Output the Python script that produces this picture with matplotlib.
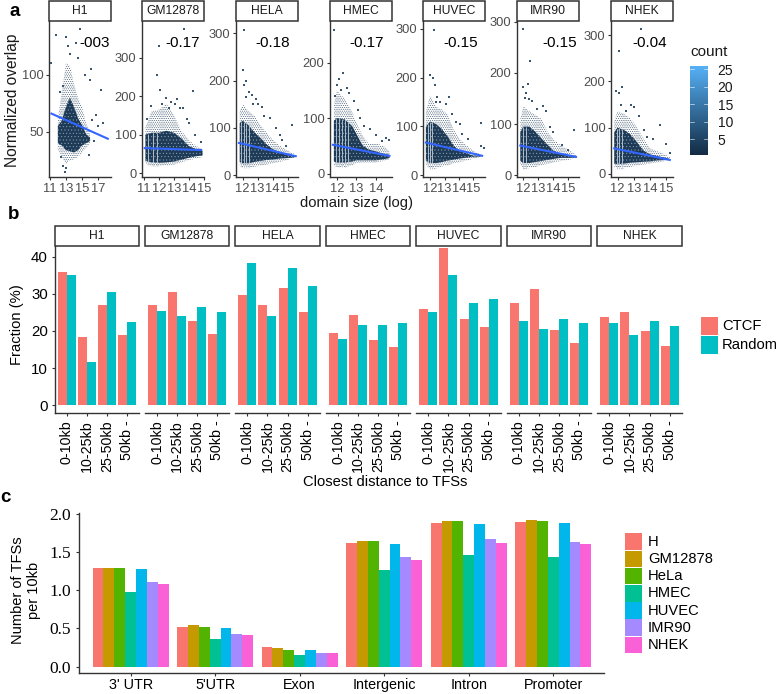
import matplotlib
matplotlib.use("Agg")
import matplotlib.pyplot as plt
from matplotlib.colors import LinearSegmentedColormap
from matplotlib.patches import Rectangle
import numpy as np

plt.rcParams['font.family'] = ['Liberation Sans', 'DejaVu Sans']
plt.rcParams['hatch.linewidth'] = 0.35
W, H = 778, 694

CELLS = ["H1", "GM12878", "HELA", "HMEC", "HUVEC", "IMR90", "NHEK"]
CORR = ["-003", "-0.17", "-0.18", "-0.17", "-0.15", "-0.15", "-0.04"]

# panel a: hand-read outlines of the point cloud
H1_X = [12, 12.5, 13, 13.5, 14, 14.5, 15, 15.5, 16]
H1_OUT = ([35, 28, 22, 25, 26, 28, 32, 36, 40], [62, 85, 110, 108, 92, 80, 72, 58, 50])
H1_CORE = ([40, 38, 34, 33, 32, 34, 38, 40, 42], [55, 60, 72, 80, 72, 62, 56, 48, 45])
H1_PTS = ([11.2, 11.8, 13, 13.3, 14.2, 14.8, 16.1, 16, 17.4, 17.6, 16.7, 17, 16.3, 12.3, 12.6, 15.4, 14.5, 13.5, 12.6, 13, 12.9, 12.4, 15.9, 16.5],
          [110, 135, 133, 125, 128, 140, 105, 95, 87, 58, 65, 55, 60, 85, 90, 100, 115, 118, 20, 18, 15, 28, 30, 42])
GM_X = [11.1, 11.5, 12, 12.5, 13, 13.5, 14, 14.5, 14.9]
GM_OUT = ([25, 18, 18, 20, 22, 28, 34, 38, 42], [120, 160, 165, 180, 150, 110, 85, 70, 62])
GM_CORE = ([32, 28, 27, 28, 30, 35, 40, 44, 46], [100, 105, 105, 110, 105, 90, 70, 62, 58])
GM_PTS = ([13.7, 12, 11.85, 12.1, 14.3, 13.1, 13.4, 12.8, 13.2, 13.6, 11.5, 12.5, 12.2, 12.7, 14, 14.4, 13.9, 14.8, 11.2],
          [375, 330, 255, 215, 212, 180, 170, 185, 192, 170, 175, 195, 180, 170, 130, 100, 140, 80, 140])
HE_X = [11.8, 12, 12.4, 12.8, 13.2, 13.6, 14, 14.5, 15, 15.5]
HE_OUT = ([20, 15, 15, 18, 20, 22, 25, 28, 32, 38], [135, 150, 135, 125, 105, 90, 75, 62, 52, 44])
HE_CORE = ([28, 25, 25, 28, 30, 32, 33, 35, 36, 38], [110, 115, 105, 90, 78, 65, 55, 48, 42, 40])
HE_PTS = ([12.1, 12, 12.2, 12.1, 12.6, 12.9, 13, 13.3, 13.8, 14.2, 15.3, 14.6, 14.9, 12.4, 12.7, 12.2, 13.4, 14.5],
          [308, 222, 200, 190, 170, 160, 150, 145, 120, 100, 105, 75, 62, 175, 150, 165, 125, 85])
HM_X = [11.85, 12, 12.4, 12.8, 13, 13.3, 13.6, 14, 14.4, 14.7]
HM_OUT = ([15, 12, 12, 15, 19, 20, 20, 20, 23, 26], [125, 150, 135, 110, 92, 70, 55, 55, 50, 40])
HM_CORE = ([22, 20, 20, 22, 24, 24, 24, 24, 26, 28], [95, 100, 98, 85, 72, 52, 44, 40, 36, 34])
HM_PTS = ([11.85, 12.3, 12.1, 12.5, 12.6, 12, 12.9, 13.1, 13.4, 13.7, 14, 14.5, 14.7, 14.3, 13.2, 12.2, 11.9],
          [258, 182, 170, 155, 145, 160, 130, 115, 85, 80, 70, 65, 60, 58, 100, 150, 140])
HU_X = [11.7, 12, 12.4, 12.8, 13.2, 13.6, 14, 14.5, 15, 15.5]
HU_OUT = ([22, 12, 14, 18, 20, 24, 27, 30, 34, 38], [130, 165, 140, 135, 125, 95, 75, 62, 50, 42])
HU_CORE = ([30, 25, 25, 27, 30, 32, 34, 36, 38, 38], [100, 110, 105, 95, 80, 62, 50, 45, 40, 40])
HU_PTS = ([12.25, 12, 12.2, 12.3, 12.5, 12.7, 13.3, 13.1, 13.5, 14.1, 15.5, 15.5, 15.7, 14.6, 14.2, 12.4, 13.8],
          [298, 205, 200, 185, 160, 150, 160, 145, 125, 105, 107, 60, 55, 75, 85, 150, 110])
IM_X = [11.8, 12, 12.4, 12.8, 13.2, 13.6, 14, 14.5, 15, 15.5]
IM_OUT = ([22, 12, 14, 16, 20, 22, 25, 28, 30, 34], [110, 135, 125, 118, 110, 85, 70, 58, 50, 40])
IM_CORE = ([28, 24, 24, 26, 28, 30, 32, 34, 34, 35], [85, 95, 95, 85, 72, 60, 48, 42, 38, 36])
IM_PTS = ([12, 12.45, 12.3, 12, 12.1, 12.4, 12.9, 13.3, 13.5, 15.4, 14.6, 15, 14, 13.8, 12.6, 12.2],
          [285, 222, 178, 172, 150, 148, 130, 135, 125, 88, 60, 50, 85, 95, 145, 160])
NH_X = [11.8, 12, 12.4, 12.8, 13.2, 13.6, 14, 14.5, 15, 15.2]
NH_OUT = ([15, 10, 12, 15, 18, 20, 22, 25, 28, 30], [115, 135, 130, 120, 100, 75, 55, 48, 40, 36])
NH_CORE = ([22, 20, 22, 24, 25, 26, 27, 29, 30, 30], [90, 100, 95, 85, 68, 50, 42, 38, 34, 32])
NH_PTS = ([13.46, 12.1, 11.9, 12.1, 12.3, 12.2, 12.8, 13, 13.3, 14.6, 15, 14.2, 13.8, 15.2, 12.5, 13.6],
          [313, 265, 180, 175, 188, 150, 150, 145, 125, 105, 65, 75, 80, 45, 135, 95])

CLOUD_X = [H1_X, GM_X, HE_X, HM_X, HU_X, IM_X, NH_X]
CLOUD_OUT = [H1_OUT, GM_OUT, HE_OUT, HM_OUT, HU_OUT, IM_OUT, NH_OUT]
CLOUD_CORE = [H1_CORE, GM_CORE, HE_CORE, HM_CORE, HU_CORE, IM_CORE, NH_CORE]
CLOUD_PTS = [H1_PTS, GM_PTS, HE_PTS, HM_PTS, HU_PTS, IM_PTS, NH_PTS]
STRIPES = [[], [11.3, 11.6, 11.9], [11.9, 12.1, 12.25, 12.4], [11.95, 12.1, 12.25, 12.4, 12.55],
           [11.85, 12, 12.15], [12, 12.2], [11.95, 12.1, 12.25]]
FIT_X = [(11.2, 18.2), (11.05, 14.8), (11.75, 15.55), (11.8, 14.7), (11.7, 15.6), (11.8, 15.5), (11.8, 15.2)]
FIT_Y = [(66, 44), (65, 60), (68, 40), (52, 32), (67, 40), (58, 36), (55, 30)]
A_XT = [[11, 13, 15, 17], [11, 12, 13, 14, 15], [12, 13, 14, 15], [12, 13, 14], [12, 13, 14, 15], [12, 13, 14, 15], [12, 13, 14, 15]]
A_YT = [[50, 100], [0, 100, 200, 300], [0, 100, 200, 300], [0, 100, 200], [0, 100, 200, 300], [0, 100, 200, 300], [0, 100, 200, 300]]
A_XLIM = [(10.9, 18.6), (10.87, 15), (11.55, 15.7), (11.65, 14.83), (11.5, 15.8), (11.58, 15.7), (11.6, 15.4)]
A_YLIM = [(10.5, 147), (-10, 395), (-4, 326), (-6, 275), (-3.5, 316), (-3.3, 301), (-7, 331)]
A_LEFT = [49, 142, 236, 330, 423, 517, 611]
A_TEXTX = [95, 183, 273, 367, 461, 560, 650]

# panel b
DIST = ["0-10kb", "10-25kb", "25-50kb", "50kb -"]
CTCF = [[35.9, 18.3, 27.0, 19.0], [26.9, 30.5, 22.8, 19.2], [29.8, 27.0, 31.5, 25.0], [19.5, 24.4, 17.7, 15.6],
        [25.9, 42.3, 23.2, 21.0], [27.7, 31.4, 20.3, 16.7], [23.7, 25.0, 19.9, 15.9]]
RANDOM = [[35.2, 11.6, 30.5, 22.3], [25.5, 24.1, 26.4, 25.0], [38.5, 24.0, 36.9, 32.1], [17.9, 21.6, 21.7, 22.1],
          [25.0, 35.2, 27.7, 28.6], [22.6, 20.5, 23.3, 22.1], [22.1, 18.8, 22.8, 21.3]]
B_LEFT = [54.7, 145, 235.3, 326, 416.3, 506.7, 597.3]

# panel c
REGIONS = ["3' UTR", "5'UTR", "Exon", "Intergenic", "Intron", "Promoter"]
LINES = ["H", "GM12878", "HeLa", "HMEC", "HUVEC", "IMR90", "NHEK"]
TFS = [[1.288, 0.515, 0.258, 1.62, 1.873, 1.895],
       [1.29, 0.55, 0.245, 1.646, 1.908, 1.913],
       [1.295, 0.52, 0.223, 1.642, 1.908, 1.904],
       [0.978, 0.358, 0.157, 1.258, 1.463, 1.428],
       [1.28, 0.50, 0.218, 1.60, 1.869, 1.882],
       [1.11, 0.428, 0.179, 1.437, 1.668, 1.629],
       [1.08, 0.41, 0.175, 1.397, 1.62, 1.603]]
LINE_COL = ["#F8766D", "#C49A00", "#53B400", "#00C094", "#00B6EB", "#A58AFF", "#FB61D7"]
COUNT_TICKS = [5, 10, 15, 20, 25]

fig = plt.figure(figsize=(W / 100, H / 100), dpi=100)

def px_ax(l, t, r, b):
    return fig.add_axes([l / W, 1 - b / H, (r - l) / W, (b - t) / H])

def ftext(x, y, s, **kw):
    kw.setdefault('ha', 'center')
    kw.setdefault('va', 'center')
    return fig.text(x / W, 1 - y / H, s, **kw)

def strip(l, t, r, b, s, fs):
    fig.add_artist(Rectangle((l / W, 1 - b / H), (r - l) / W, (b - t) / H, transform=fig.transFigure,
                             fc='white', ec='#333333', lw=1.1))
    ftext((l + r) / 2, (t + b) / 2, s, fontsize=fs, color='#1a1a1a')

GREY = '#4D4D4D'
DARK = '#333333'
cmap = LinearSegmentedColormap.from_list('cnt', ['#132B43', '#56B1F7'])

for i, cell in enumerate(CELLS):
    l = A_LEFT[i]
    ax = px_ax(l, 21, l + 62, 177)
    ax.set_xlim(*A_XLIM[i]); ax.set_ylim(*A_YLIM[i])
    ax.fill_between(CLOUD_X[i], CLOUD_OUT[i][0], CLOUD_OUT[i][1], facecolor='white', edgecolor='#1d3a56',
                    hatch='.........', lw=0, zorder=1)
    ax.fill_between(CLOUD_X[i], CLOUD_CORE[i][0], CLOUD_CORE[i][1], facecolor='#1d3a56', edgecolor='#8fa3b6',
                    hatch='.....', lw=0, zorder=2)
    if STRIPES[i]:
        top = np.interp(STRIPES[i], CLOUD_X[i], CLOUD_CORE[i][1])
        bot = np.interp(STRIPES[i], CLOUD_X[i], CLOUD_OUT[i][0])
        ax.vlines(STRIPES[i], bot, top, color='#c6d0da', lw=0.6, zorder=3)
    ax.scatter(CLOUD_PTS[i][0], CLOUD_PTS[i][1], s=0.9, marker='s', color='#3a5570', lw=0, zorder=3)
    ax.plot(FIT_X[i], FIT_Y[i], color='#3366FF', lw=1.5, zorder=4)
    ax.set_xticks(A_XT[i]); ax.set_yticks(A_YT[i])
    ax.tick_params(labelsize=9.3, colors=GREY, length=2.5, width=0.8, pad=1.5, color=DARK)
    for s in ('top', 'right'):
        ax.spines[s].set_visible(False)
    for s in ('left', 'bottom'):
        ax.spines[s].set_color(DARK); ax.spines[s].set_linewidth(1.0)
    strip(l, 1, l + 62, 21, cell, 8.7)
    ftext(A_TEXTX[i], 43, CORR[i], fontsize=11, color='black')

ftext(13, 100, "Normalized overlap", rotation=90, fontsize=11.2, color='#1a1a1a')
ftext(356, 203, "domain size (log)", fontsize=10.6, color='#1a1a1a')
ftext(15, 11, "a", fontsize=13.5, fontweight='bold')

cax = px_ax(690, 66, 708, 155)
grad = np.linspace(0.5, 25.9, 256).reshape(-1, 1)
cax.imshow(grad, aspect='auto', origin='lower', cmap=cmap, extent=[0, 1, 0.5, 25.9])
cax.set_xticks([]); cax.yaxis.tick_right()
cax.set_yticks(COUNT_TICKS)
cax.tick_params(axis='y', length=0, labelsize=10, pad=7, labelcolor='#1a1a1a')
for y in COUNT_TICKS:
    cax.plot([0, 0.2], [y, y], color='white', lw=0.4)
    cax.plot([0.8, 1], [y, y], color='white', lw=0.4)
cax.set_xlim(0, 1); cax.set_ylim(0.5, 25.9)
for s in cax.spines.values():
    s.set_visible(False)
ftext(690, 52.5, "count", ha='left', fontsize=11, color='#1a1a1a')

# panel b
for i, cell in enumerate(CELLS):
    l = B_LEFT[i]
    ax = px_ax(l, 245.7, l + 84.4, 413)
    ax.set_xlim(0.4, 4.6); ax.set_ylim(-2.16, 43.05)
    x = np.arange(1, 5)
    ax.bar(x - 0.225, CTCF[i], 0.45, color='#F8766D', lw=0)
    ax.bar(x + 0.225, RANDOM[i], 0.45, color='#00BFC4', lw=0)
    ax.set_xticks(x); ax.set_xticklabels(DIST, rotation=90, ha='center', va='top')
    ax.tick_params(axis='x', labelsize=10.3, length=2.5, width=0.8, pad=2.5, color=DARK)
    for s in ('top', 'right'):
        ax.spines[s].set_visible(False)
    ax.spines['bottom'].set_color(DARK); ax.spines['bottom'].set_linewidth(1.0)
    if i == 0:
        ax.set_yticks([0, 10, 20, 30, 40])
        ax.tick_params(axis='y', labelsize=10.8, length=2.5, width=0.8, pad=2.5, color=DARK)
        ax.spines['left'].set_color(DARK); ax.spines['left'].set_linewidth(1.0)
    else:
        ax.set_yticks([]); ax.spines['left'].set_visible(False)
    strip(l, 225.7, l + 84.4, 245.7, cell, 8.7)

ftext(17, 325, "Fraction (%)", rotation=90, fontsize=10.6)
ftext(385, 482, "Closest distance to TFSs", fontsize=10.6)
ftext(14, 214, "b", fontsize=13.5, fontweight='bold')
for y0, col, lab in [(317, '#F8766D', "CTCF"), (336, '#00BFC4', "Random")]:
    fig.add_artist(Rectangle((701 / W, 1 - (y0 + 17.5) / H), 17 / W, 17.5 / H, transform=fig.transFigure, fc=col, lw=0))
    ftext(722, y0 + 9, lab, ha='left', fontsize=10.6)

# panel c
ax = px_ax(79, 513, 604, 673.3)
ax.set_xlim(0.39, 6.6); ax.set_ylim(-0.087, 2.01)
x = np.arange(1, 7)
bw = 0.9 / 7
for j, lab in enumerate(LINES):
    ax.bar(x - 0.45 + bw * (j + 0.5), TFS[j], bw, color=LINE_COL[j], lw=0)
ax.set_xticks(x); ax.set_xticklabels(REGIONS)
ax.tick_params(axis='x', labelsize=10.4, length=2.5, width=0.8, pad=1, color=DARK)
ax.set_yticks([0, 0.5, 1, 1.5, 2]); ax.set_yticklabels(["0.0", "0.5", "1.0", "1.5", "2.0"], family='Liberation Serif')
ax.tick_params(axis='y', labelsize=12.5, length=2.5, width=0.8, pad=3, color=DARK)
for s in ('top', 'right'):
    ax.spines[s].set_visible(False)
for s in ('left', 'bottom'):
    ax.spines[s].set_color(DARK); ax.spines[s].set_linewidth(1.0)
ftext(26, 590, "Number of TFSs\nper 10kb", rotation=90, fontsize=10.5, linespacing=1.1, ha='center', multialignment='center')
ftext(5, 497, "c", fontsize=13.5, fontweight='bold')
for j, lab in enumerate(LINES):
    top = 533.3 + j * 17.2
    fig.add_artist(Rectangle((625 / W, 1 - (top + 16.6) / H), 17 / W, 16.6 / H, transform=fig.transFigure, fc=LINE_COL[j], lw=0))
    ftext(648, top + 8.5, lab, ha='left', fontsize=10.6)

fig.savefig("out.png", dpi=100)
